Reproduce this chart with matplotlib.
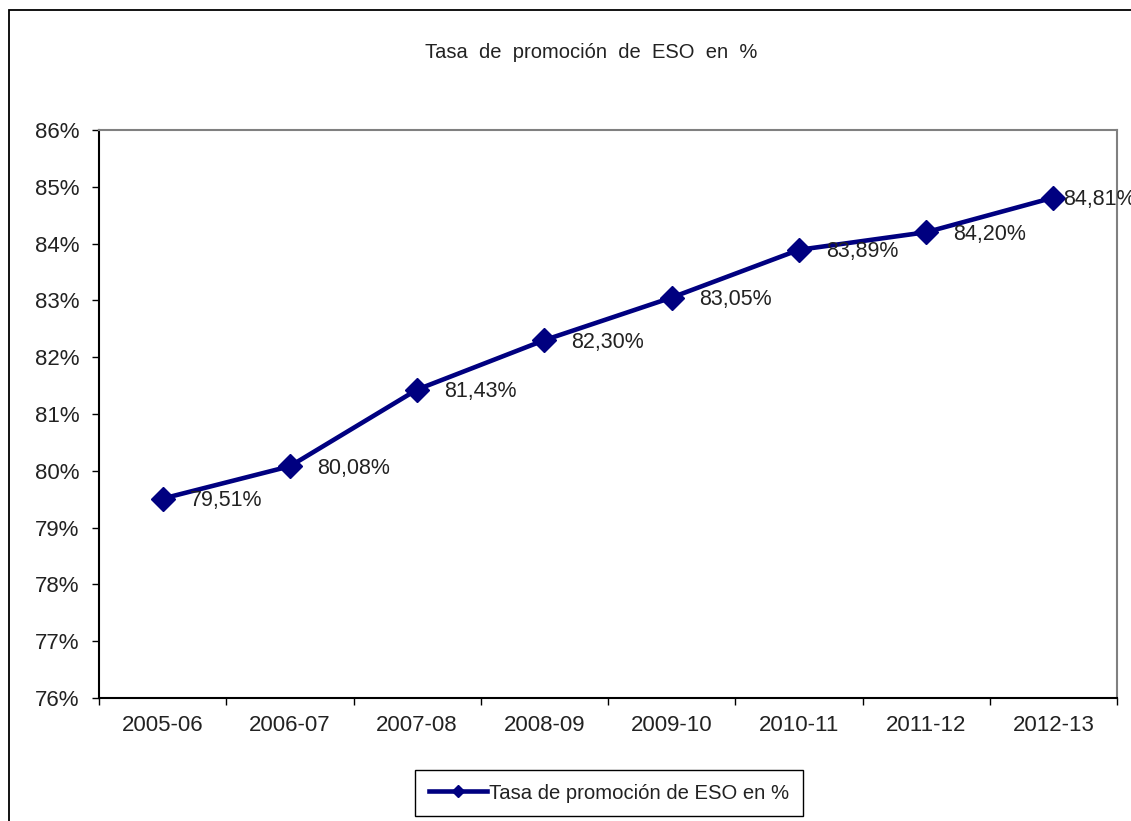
import numpy as np
import matplotlib.pyplot as plt
from matplotlib.patches import Rectangle
from matplotlib.ticker import FixedLocator

plt.rcParams['font.family'] = ['Liberation Sans', 'DejaVu Sans']

cursos = ["2005-06", "2006-07", "2007-08", "2008-09", "2009-10", "2010-11", "2011-12", "2012-13"]
tasa = [79.51, 80.08, 81.43, 82.30, 83.05, 83.89, 84.20, 84.81]
y_ticks = [76, 77, 78, 79, 80, 81, 82, 83, 84, 85, 86]
titulo = "Tasa de promoción de ESO en %"

azul = "#000080"
texto = "#222222"

fig = plt.figure(figsize=(11.31, 8.21), dpi=100)

# marco exterior del grafico
fig.patches.append(Rectangle((8.5 / 1131, -0.05), 1.2, 1 - 10.5 / 821 + 0.05,
                             transform=fig.transFigure, fill=False,
                             edgecolor="black", linewidth=1.3))

ax = fig.add_axes([99 / 1131, 1 - 698 / 821, 1018 / 1131, 568 / 821])

x = np.arange(len(cursos))
ax.plot(x, tasa, color=azul, linewidth=3.3, marker="D", markersize=12,
        label=titulo)

# etiquetas de datos a la derecha de cada punto
for i, v in enumerate(tasa):
    dx = 19.5 if i < len(tasa) - 1 else 7
    ax.annotate("{:.2f}%".format(v).replace(".", ","), (i, v),
                xytext=(dx, -1.5), textcoords="offset points",
                ha="left", va="center", fontsize=15.5, color=texto,
                annotation_clip=False)

ax.set_xlim(-0.5, len(cursos) - 0.5)
ax.set_ylim(76, 86)
ax.set_yticks(y_ticks)
ax.set_yticklabels(["{}%".format(t) for t in y_ticks])
ax.set_xticks(x)
ax.set_xticklabels(cursos)
ax.xaxis.set_minor_locator(FixedLocator(np.arange(-0.5, len(cursos), 1.0)))
ax.tick_params(axis="x", which="major", length=0, pad=12, labelsize=16,
               labelcolor=texto)
ax.tick_params(axis="x", which="minor", length=5, width=1, color="black")
ax.tick_params(axis="y", length=5, width=1, pad=9, labelsize=16,
               labelcolor=texto)

for lado in ["top", "right"]:
    ax.spines[lado].set_color("#808080")
    ax.spines[lado].set_linewidth(1.5)
for lado in ["left", "bottom"]:
    ax.spines[lado].set_color("black")
    ax.spines[lado].set_linewidth(1.5)

fig.text(591 / 1131, 1 - 53 / 821, titulo.replace(" ", "  "), ha="center",
         va="center", fontsize=14.5, color=texto)

leg = fig.legend(loc="center", bbox_to_anchor=(609 / 1131, 1 - 793 / 821),
                 fontsize=14.6, handlelength=2.9, markerscale=0.55,
                 fancybox=False, edgecolor="black", framealpha=1,
                 borderpad=0.65, handletextpad=0.1)
leg.get_frame().set_linewidth(1.0)
for t in leg.get_texts():
    t.set_color(texto)

fig.savefig("out.png", dpi=100)
